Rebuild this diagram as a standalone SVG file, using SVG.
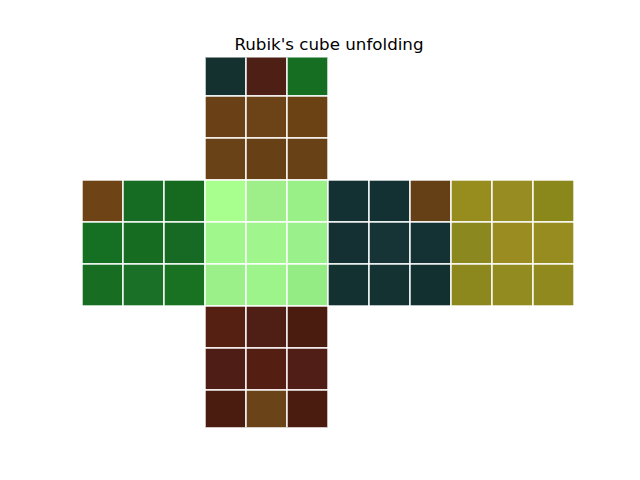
<svg xmlns="http://www.w3.org/2000/svg" width="640" height="480" viewBox="0 0 640 480">
<style>
rect.c{stroke:#ffffff;stroke-width:1.4}
.tl{fill:#14312f}.rd{fill:#4f1f15}.gr{fill:#166e22}.br{fill:#6a4216}
.lg{fill:#a2f88c}.ol{fill:#938c1f}
text{font-family:"DejaVu Sans",sans-serif;font-size:16.7px;fill:#000}
</style>
<defs><clipPath id="ax"><rect x="80" y="57.6" width="496" height="369.6"/></clipPath></defs>
<rect width="640" height="480" fill="#ffffff"/>
<text x="329" y="50" text-anchor="middle">Rubik's cube unfolding</text>
<g clip-path="url(#ax)">
<g id="up">
<rect class="c" x="205" y="54" width="41" height="42" fill="#14302f"/>
<rect class="c" x="246" y="54" width="41" height="42" fill="#4e1f15"/>
<rect class="c" x="287" y="54" width="41" height="42" fill="#156e22"/>
<rect class="c" x="205" y="96" width="41" height="42" fill="#6a4117"/>
<rect class="c" x="246" y="96" width="41" height="42" fill="#6b4317"/>
<rect class="c" x="287" y="96" width="41" height="42" fill="#6a4213"/>
<rect class="c" x="205" y="138" width="41" height="42" fill="#6a4217"/>
<rect class="c" x="246" y="138" width="41" height="42" fill="#684015"/>
<rect class="c" x="287" y="138" width="41" height="42" fill="#684117"/>
</g>
<g id="left">
<rect class="c" x="82" y="180" width="41" height="42" fill="#6e4417"/>
<rect class="c" x="123" y="180" width="41" height="42" fill="#166c22"/>
<rect class="c" x="164" y="180" width="41" height="42" fill="#156a20"/>
<rect class="c" x="82" y="222" width="41" height="42" fill="#167024"/>
<rect class="c" x="123" y="222" width="41" height="42" fill="#166c21"/>
<rect class="c" x="164" y="222" width="41" height="42" fill="#176a24"/>
<rect class="c" x="82" y="264" width="41" height="42" fill="#176e22"/>
<rect class="c" x="123" y="264" width="41" height="42" fill="#197026"/>
<rect class="c" x="164" y="264" width="41" height="42" fill="#187222"/>
</g>
<g id="front">
<rect class="c" x="205" y="180" width="41" height="42" fill="#a8ff8e"/>
<rect class="c" x="246" y="180" width="41" height="42" fill="#9eee8a"/>
<rect class="c" x="287" y="180" width="41" height="42" fill="#98f086"/>
<rect class="c" x="205" y="222" width="41" height="42" fill="#a0f88c"/>
<rect class="c" x="246" y="222" width="41" height="42" fill="#a0f68c"/>
<rect class="c" x="287" y="222" width="41" height="42" fill="#9af08a"/>
<rect class="c" x="205" y="264" width="41" height="42" fill="#9cf08a"/>
<rect class="c" x="246" y="264" width="41" height="42" fill="#9cf48a"/>
<rect class="c" x="287" y="264" width="41" height="42" fill="#94ec84"/>
</g>
<g id="right">
<rect class="c" x="328" y="180" width="41" height="42" fill="#133033"/>
<rect class="c" x="369" y="180" width="41" height="42" fill="#133033"/>
<rect class="c" x="410" y="180" width="41" height="42" fill="#654016"/>
<rect class="c" x="328" y="222" width="41" height="42" fill="#143033"/>
<rect class="c" x="369" y="222" width="41" height="42" fill="#163436"/>
<rect class="c" x="410" y="222" width="41" height="42" fill="#143234"/>
<rect class="c" x="328" y="264" width="41" height="42" fill="#133131"/>
<rect class="c" x="369" y="264" width="41" height="42" fill="#143232"/>
<rect class="c" x="410" y="264" width="41" height="42" fill="#123030"/>
</g>
<g id="back">
<rect class="c" x="451" y="180" width="41" height="42" fill="#978c1e"/>
<rect class="c" x="492" y="180" width="41" height="42" fill="#968c22"/>
<rect class="c" x="533" y="180" width="41" height="42" fill="#8a881a"/>
<rect class="c" x="451" y="222" width="41" height="42" fill="#8c8820"/>
<rect class="c" x="492" y="222" width="41" height="42" fill="#9a8c20"/>
<rect class="c" x="533" y="222" width="41" height="42" fill="#968c20"/>
<rect class="c" x="451" y="264" width="41" height="42" fill="#8c881e"/>
<rect class="c" x="492" y="264" width="41" height="42" fill="#928c20"/>
<rect class="c" x="533" y="264" width="41" height="42" fill="#908a1e"/>
</g>
<g id="down">
<rect class="c" x="205" y="306" width="41" height="42" fill="#552012"/>
<rect class="c" x="246" y="306" width="41" height="42" fill="#4f1f15"/>
<rect class="c" x="287" y="306" width="41" height="42" fill="#4a1c10"/>
<rect class="c" x="205" y="348" width="41" height="42" fill="#4e1e16"/>
<rect class="c" x="246" y="348" width="41" height="42" fill="#541e12"/>
<rect class="c" x="287" y="348" width="41" height="42" fill="#501e16"/>
<rect class="c" x="205" y="390" width="41" height="42" fill="#4a1c10"/>
<rect class="c" x="246" y="390" width="41" height="42" fill="#6a4418"/>
<rect class="c" x="287" y="390" width="41" height="42" fill="#4a1c10"/>
</g>
</g>
</svg>
